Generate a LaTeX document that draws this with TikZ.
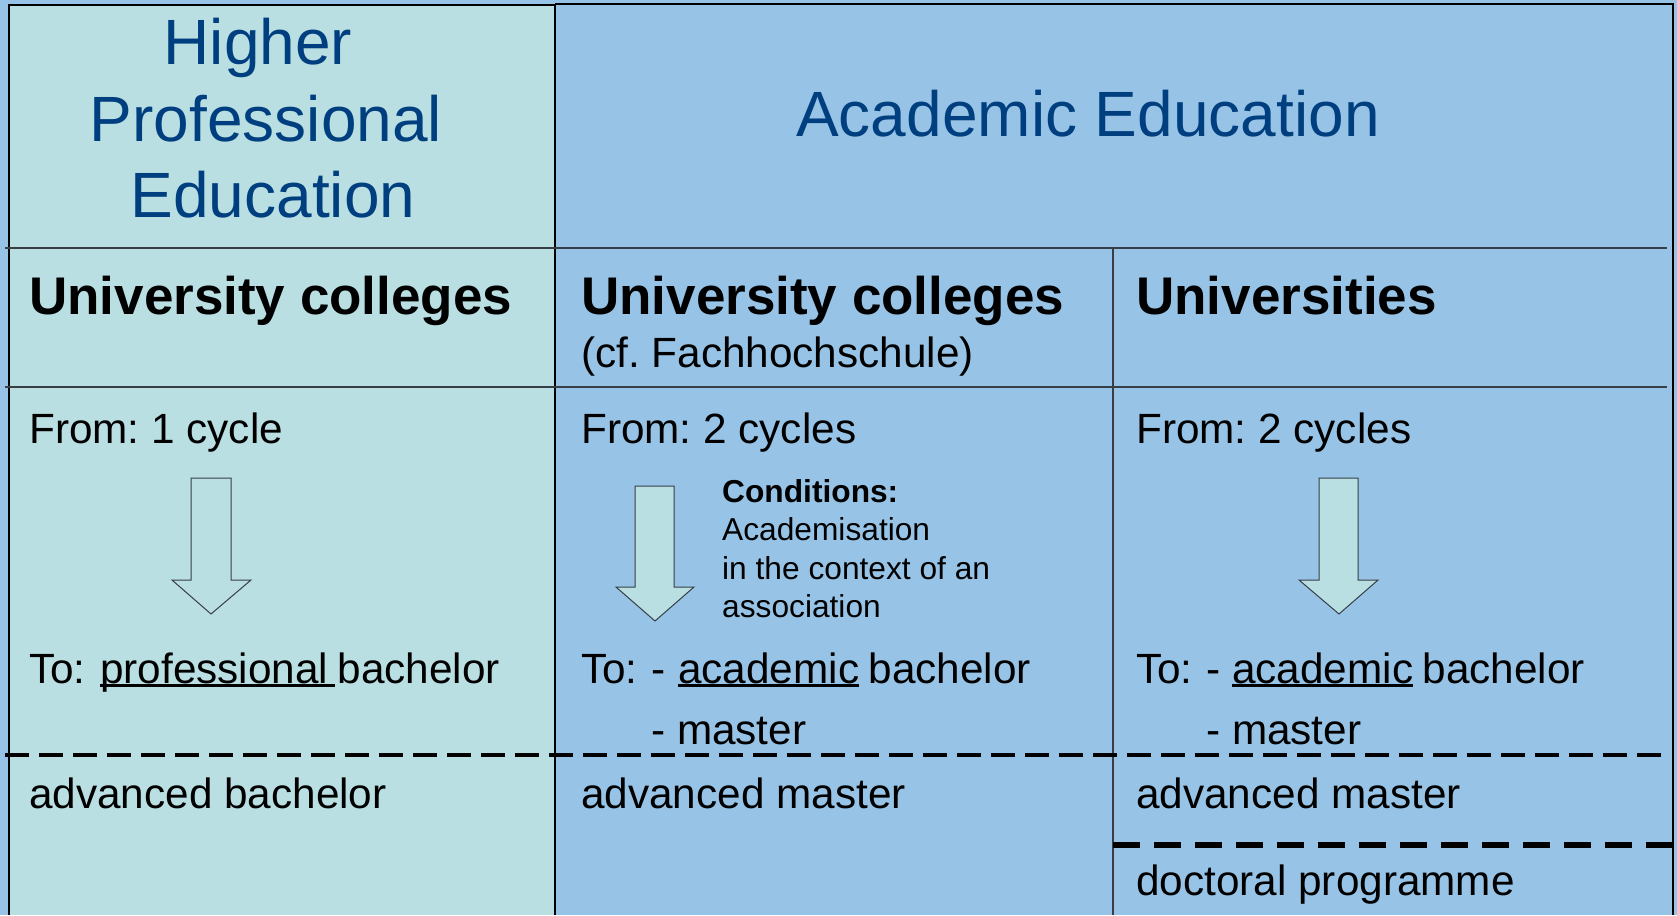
\documentclass[tikz,border=0pt]{standalone}
\usepackage{fontspec}
\setmainfont{Liberation Sans}
\frenchspacing
\definecolor{bgblue}{RGB}{151,196,230}
\definecolor{lightcy}{RGB}{185,223,227}
\definecolor{titleblue}{RGB}{0,63,127}
\definecolor{rulegray}{RGB}{55,62,70}
\tikzset{
  txt/.style={anchor=base west, inner sep=0pt, font=\fontsize{42.3}{48}\selectfont},
  boldtxt/.style={anchor=base west, inner sep=0pt, font=\fontsize{53}{60}\selectfont\bfseries},
  titletxt/.style={anchor=base, inner sep=0pt, text=titleblue, font=\fontsize{64}{71}\selectfont},
  condtxt/.style={anchor=base west, inner sep=0pt, font=\fontsize{31.7}{38}\selectfont},
  blockarrow/.style={draw=rulegray, line width=1pt, line join=miter},
  rowrule/.style={draw=rulegray, line width=1.5pt},
  colrule/.style={draw=black, line width=1.8pt},
  dashone/.style={draw=black, line width=3.5pt, dash pattern=on 24pt off 10pt},
  dashtwo/.style={draw=black, line width=5.5pt, dash pattern=on 27pt off 14pt},
  uline/.style={draw=black, line width=2.2pt}
}
\begin{document}
\begin{tikzpicture}[x=1pt,y=-1pt]
\useasboundingbox (0,0) rectangle (1677,915);
% backgrounds
\fill[bgblue] (0,0) rectangle (1677,915);
\fill[lightcy] (9,5) rectangle (555,915);
% borders
\draw[colrule] (9,915) -- (9,5) -- (555,5);
\draw[colrule] (555,4) -- (1673,4) -- (1673,915);
\draw[colrule] (555,4) -- (555,915);
\draw[rowrule] (1113,248) -- (1113,915);
\draw[rowrule] (5,248) -- (1667,248);
\draw[rowrule] (5,387) -- (1667,387);
\draw[dashone] (5,755) -- (1667,755);
\draw[dashtwo] (1113,845) -- (1673,845);
% titles
\node[titletxt] (h1) at (258,65) {Higher};
\node[titletxt] (h2) at (266,142) {Professional};
\node[titletxt] (h3) at (273,217) {Education};
\node[titletxt] (ae) at (1088,136) {Academic Education};
% column heads
\node[boldtxt] (c1) at (29,314) {University colleges};
\node[boldtxt] (c2) at (581,314) {University colleges};
\node[txt] (c2b) at (581,367) {(cf. Fachhochschule)};
\node[boldtxt] (c3) at (1136,314) {Universities};
% from
\node[txt] (f1) at (29,443) {From: 1 cycle};
\node[txt] (f2) at (581,443) {From: 2 cycles};
\node[txt] (f3) at (1136,443) {From: 2 cycles};
% arrows
\draw[blockarrow, fill=lightcy] (191,478) -- (231,478) -- (231,580) -- (251,580) -- (211,614) -- (172,580) -- (191,580) -- cycle;
\draw[blockarrow, fill=lightcy] (635,486) -- (674,486) -- (674,587) -- (694,587) -- (655,621) -- (616,587) -- (635,587) -- cycle;
\draw[blockarrow, fill=lightcy] (1319,478) -- (1358,478) -- (1358,580) -- (1378,580) -- (1339,614) -- (1299,580) -- (1319,580) -- cycle;
% conditions
\node[condtxt, font=\fontsize{31.7}{38}\selectfont\bfseries] (k1) at (722,502) {Conditions:};
\node[condtxt] (k2) at (722,540) {Academisation};
\node[condtxt] (k3) at (722,579) {in the context of an};
\node[condtxt] (k4) at (722,617) {association};
% to lines
\node[txt] (t1) at (29,683) {To:};
\node[txt] (p1) at (100,683) {professional};
\node[txt] (b1) at ([xshift=9pt]p1.base east) {bachelor};
\draw[uline] ([yshift=-2.5pt]p1.base west) -- ([yshift=-2.5pt,xshift=7pt]p1.base east);
\node[txt] (t2) at (581,683) {To:};
\node[txt] (d2) at (651,683) {-};
\node[txt] (a2) at (678,683) {academic};
\node[txt] (b2) at ([xshift=9pt]a2.base east) {bachelor};
\draw[uline] ([yshift=-2.5pt]a2.base west) -- ([yshift=-2.5pt]a2.base east);
\node[txt] (m2) at (651,744) {- master};
\node[txt] (t3) at (1136,683) {To:};
\node[txt] (d3) at (1206,683) {-};
\node[txt] (a3) at (1232,683) {academic};
\node[txt] (b3) at ([xshift=9pt]a3.base east) {bachelor};
\draw[uline] ([yshift=-2.5pt]a3.base west) -- ([yshift=-2.5pt]a3.base east);
\node[txt] (m3) at (1206,744) {- master};
% advanced
\node[txt] (v1) at (29,808) {advanced bachelor};
\node[txt] (v2) at (581,808) {advanced master};
\node[txt] (v3) at (1136,808) {advanced master};
\node[txt] (dp) at (1136,895) {doctoral programme};
\end{tikzpicture}
\end{document}
